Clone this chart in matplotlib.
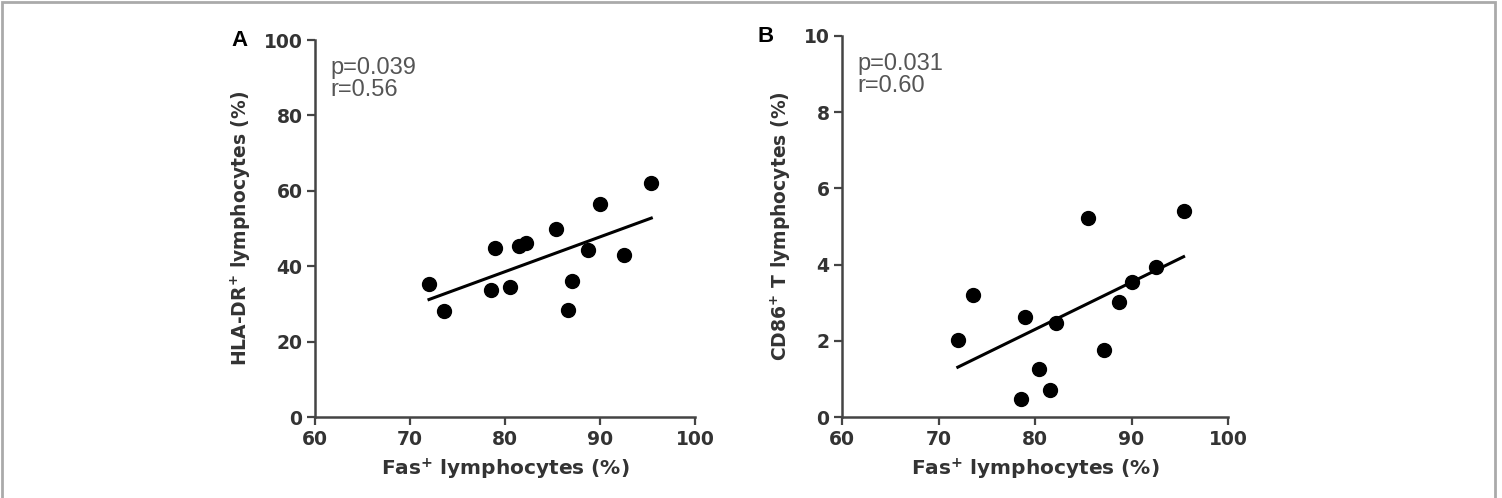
import numpy as np
import matplotlib.pyplot as plt
from matplotlib.patches import Rectangle

# panel A: Fas+ vs HLA-DR+
fas_a = [72.0, 73.6, 78.5, 78.9, 80.5, 81.5, 82.2, 85.4, 86.6, 87.0, 88.7, 90.0, 92.5, 95.4]
hla_dr = [35.4, 28.1, 33.6, 44.7, 34.5, 45.4, 46.2, 49.9, 28.5, 36.1, 44.4, 56.5, 43.0, 62.1]

# panel B: Fas+ vs CD86+ T
fas_b = [72.0, 73.55, 78.6, 79.0, 80.4, 81.6, 82.2, 85.45, 87.1, 88.7, 90.1, 92.5, 95.4]
cd86 = [2.03, 3.21, 0.48, 2.63, 1.25, 0.70, 2.48, 5.23, 1.75, 3.01, 3.55, 3.93, 5.41]

x_ticks = [60, 70, 80, 90, 100]
stats_a = "p=0.039\nr=0.56"
stats_b = "p=0.031\nr=0.60"

plt.rcParams['font.family'] = ['DejaVu Sans']
plt.rcParams['mathtext.fontset'] = 'dejavusans'

W, H = 1502, 498
fig = plt.figure(figsize=(W / 100, H / 100), dpi=100)
fig.patches.append(Rectangle((2 / W, -0.01), 1493 / W, 1 - 2 / H + 0.01,
                             transform=fig.transFigure, fill=False,
                             edgecolor="#aaaaaa", linewidth=2))

dark = "#333333"


def panel(rect, x, y, ymax, yticks, ylabel, stats, letter):
    ax = fig.add_axes(rect)
    ax.scatter(x, y, s=100, color="black", zorder=3)
    k, b = np.polyfit(x, y, 1)
    xs = np.array([min(x), max(x)])
    ax.plot(xs, k * xs + b, color="black", linewidth=2.2)
    ax.set_xlim(60, 100)
    ax.set_ylim(0, ymax)
    ax.set_xticks(x_ticks)
    ax.set_yticks(yticks)
    for s in ["top", "right"]:
        ax.spines[s].set_visible(False)
    for s in ["left", "bottom"]:
        ax.spines[s].set_color("#444444")
        ax.spines[s].set_linewidth(1.8)
    ax.tick_params(length=6, width=1.6, color="#444444", labelsize=13.5,
                   labelcolor=dark, pad=3)
    for t in ax.get_xticklabels() + ax.get_yticklabels():
        t.set_fontweight("bold")
    ax.set_xlabel(r"Fas$^{\mathbf{+}}$ lymphocytes (%)", fontsize=14.5,
                  fontweight="bold", color=dark, labelpad=6)
    ax.set_ylabel(ylabel, fontsize=13.5, fontweight="bold", color=dark, labelpad=8)
    ax.text(0.04, 0.955, stats, transform=ax.transAxes, ha="left", va="top",
            fontsize=17, color="#555555", linespacing=1.0,
            family="Liberation Sans")
    ax.text(-0.22, 1.0, letter, transform=ax.transAxes, ha="left", va="center",
            fontsize=16, fontweight="bold", color="black",
            family="Liberation Sans")
    return ax


panel([315 / W, 1 - 417 / H, 380 / W, 377 / H], fas_a, hla_dr, 100,
      [0, 20, 40, 60, 80, 100], r"HLA-DR$^{\mathbf{+}}$ lymphocytes (%)",
      stats_a, "A")
panel([842 / W, 1 - 417 / H, 386 / W, 381 / H], fas_b, cd86, 10,
      [0, 2, 4, 6, 8, 10], r"CD86$^{\mathbf{+}}$ T lymphocytes (%)",
      stats_b, "B")

fig.savefig("out.png", dpi=100)
